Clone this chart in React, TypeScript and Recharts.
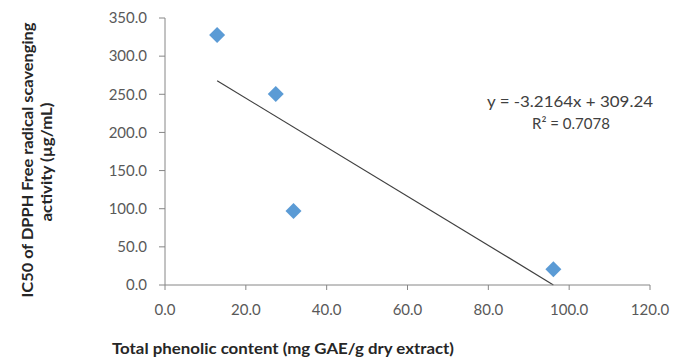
import React from "react";
import {
  ScatterChart,
  Scatter,
  XAxis,
  YAxis,
  ReferenceLine,
  Label,
} from "recharts";

const phenolic = [12.9, 27.4, 31.8, 96.1];
const ic50 = [327.6, 250.3, 97.0, 20.6];
const xTicks = [0, 20, 40, 60, 80, 100, 120];
const yTicks = [0, 50, 100, 150, 200, 250, 300, 350];
const slope = -3.2164;
const intercept = 309.24;
const rSquared = 0.7078;
const xTitle = "Total phenolic content (mg GAE/g dry extract)";
const yTitle1 = "IC50 of DPPH Free radical scavenging";
const yTitle2 = "activity (µg/mL)";

const data = phenolic.map((x, i) => ({ x, y: ic50[i] }));
const xMin = Math.min(...phenolic);
const xMax = Math.max(...phenolic);
const trend = [
  { x: xMin, y: slope * xMin + intercept },
  { x: xMax, y: slope * xMax + intercept },
];

const FONT = "Lato, 'Liberation Sans', Arial, sans-serif";
const AXIS = "#868686";
const TICK = "#595959";
const TITLE = "#262626";

const Diamond = (props: any) => {
  const { cx, cy } = props;
  const r = 8;
  return (
    <polygon
      points={`${cx},${cy - r} ${cx + r},${cy} ${cx},${cy + r} ${cx - r},${cy}`}
      fill="#5B9BD5"
    />
  );
};

const YTitle = () => (
  <g>
    <text
      x={0}
      y={0}
      transform="translate(27,160) rotate(-90)"
      textAnchor="middle"
      dominantBaseline="central"
      fontFamily={FONT}
      fontSize={15}
      fontWeight="bold"
      fill={TITLE}
      textLength={275}
      lengthAdjust="spacingAndGlyphs"
    >
      {yTitle1}
    </text>
    <text
      x={0}
      y={0}
      transform="translate(46,162) rotate(-90)"
      textAnchor="middle"
      dominantBaseline="central"
      fontFamily={FONT}
      fontSize={15}
      fontWeight="bold"
      fill={TITLE}
      textLength={119}
      lengthAdjust="spacingAndGlyphs"
    >
      {yTitle2}
    </text>
  </g>
);

const XTitle = () => (
  <text
    x={283}
    y={348}
    textAnchor="middle"
    dominantBaseline="central"
    fontFamily={FONT}
    fontSize={15}
    fontWeight="bold"
    fill={TITLE}
    textLength={342}
    lengthAdjust="spacingAndGlyphs"
  >
    {xTitle}
  </text>
);

const Equation = () => (
  <g>
    <text
      x={570}
      y={101}
      fontFamily={FONT}
      fontSize={15}
      fill="#404040"
      textAnchor="middle"
      dominantBaseline="central"
      textLength={166}
      lengthAdjust="spacingAndGlyphs"
    >
      {`y = ${slope}x + ${intercept}`}
    </text>
    <text
      x={571}
      y={123}
      fontFamily={FONT}
      fontSize={15}
      fill="#404040"
      textAnchor="middle"
      dominantBaseline="central"
    >
      {`R² = ${rSquared}`}
    </text>
  </g>
);

export default function App() {
  return (
    <div style={{ position: "absolute", left: 0, top: 0, background: "#fff" }}>
      <ScatterChart
        width={675}
        height={360}
        margin={{ top: 18, right: 25, bottom: 0, left: 0 }}
      >
        <XAxis
          type="number"
          dataKey="x"
          domain={[0, 120]}
          ticks={xTicks}
          tickFormatter={(v: number) => v.toFixed(1)}
          height={75}
          stroke={AXIS}
          tickSize={5}
          tickMargin={14}
          tick={{ fill: TICK, fontSize: 15, fontFamily: FONT }}
          interval={0}
        >
          <Label content={XTitle} />
        </XAxis>
        <YAxis
          type="number"
          dataKey="y"
          domain={[0, 350]}
          ticks={yTicks}
          tickFormatter={(v: number) => v.toFixed(1)}
          width={165}
          stroke={AXIS}
          tickSize={6}
          tickMargin={12}
          tick={{ fill: TICK, fontSize: 15, fontFamily: FONT }}
          interval={0}
        >
          <Label content={YTitle} />
        </YAxis>
        <ReferenceLine
          segment={trend}
          stroke="#404040"
          strokeWidth={1.2}
          ifOverflow="visible"
          label={<Equation />}
        />
        <Scatter
          data={data}
          shape={<Diamond />}
          isAnimationActive={false}
        />
      </ScatterChart>
    </div>
  );
}
